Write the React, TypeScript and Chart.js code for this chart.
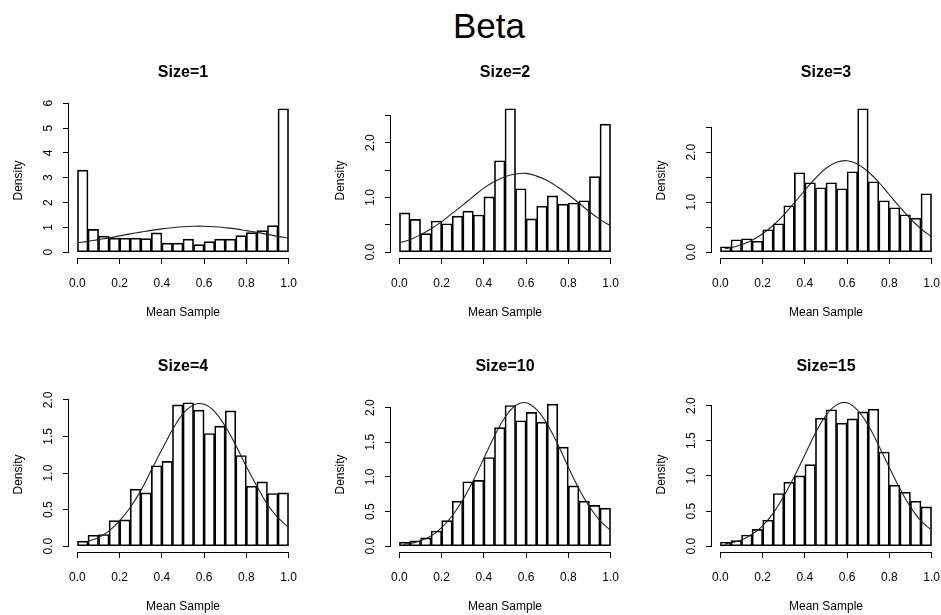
import React, { useEffect, useRef } from "react";
import { Chart, registerables } from "chart.js";

Chart.register(...registerables);

const FONT = "'Liberation Sans', Arial, Helvetica, sans-serif";

// ---------------- data ----------------
const mainTitle = "Beta";
const xAxisTitle = "Mean Sample";
const yAxisTitle = "Density";

const binCenters = [
  0.025, 0.075, 0.125, 0.175, 0.225, 0.275, 0.325, 0.375, 0.425, 0.475,
  0.525, 0.575, 0.625, 0.675, 0.725, 0.775, 0.825, 0.875, 0.925, 0.975,
];
const xTicks = [0, 0.2, 0.4, 0.6, 0.8, 1.0];
const xTickLabels = ["0.0", "0.2", "0.4", "0.6", "0.8", "1.0"];

// Size=1
const size1Bars = [3.31, 0.92, 0.65, 0.57, 0.57, 0.57, 0.55, 0.78, 0.37, 0.37, 0.53, 0.31, 0.43, 0.53, 0.53, 0.67, 0.79, 0.87, 1.07, 5.78];
const size1CurveX = [0, 0.05, 0.1, 0.15, 0.2, 0.25, 0.3, 0.35, 0.4, 0.45, 0.5, 0.55, 0.6, 0.65, 0.7, 0.75, 0.8, 0.85, 0.9, 0.95, 1.0];
const size1CurveY = [0.38, 0.44, 0.51, 0.58, 0.66, 0.74, 0.81, 0.88, 0.94, 0.99, 1.03, 1.05, 1.05, 1.03, 0.99, 0.94, 0.87, 0.8, 0.72, 0.64, 0.57];
const size1YTicks = [0, 1, 2, 3, 4, 5, 6];
const size1YLabels = ["0", "1", "2", "3", "4", "5", "6"];

// Size=2
const size2Bars = [0.72, 0.6, 0.34, 0.57, 0.52, 0.66, 0.75, 0.68, 1.01, 1.67, 2.62, 1.16, 0.61, 0.84, 1.03, 0.88, 0.9, 0.94, 1.38, 2.34];
const size2CurveX = [0, 0.05, 0.1, 0.15, 0.2, 0.25, 0.3, 0.35, 0.4, 0.45, 0.5, 0.55, 0.6, 0.65, 0.7, 0.75, 0.8, 0.85, 0.9, 0.95, 1.0];
const size2CurveY = [0.17, 0.23, 0.32, 0.43, 0.56, 0.71, 0.86, 1.02, 1.17, 1.29, 1.38, 1.43, 1.44, 1.39, 1.31, 1.19, 1.05, 0.9, 0.74, 0.6, 0.48];
const size2YTicks = [0, 0.5, 1, 1.5, 2, 2.5];
const size2YLabels = ["0.0", "", "1.0", "", "2.0", ""];

// Size=3
const size3Bars = [0.11, 0.25, 0.27, 0.22, 0.45, 0.57, 0.93, 1.59, 1.39, 1.29, 1.39, 1.27, 1.61, 2.87, 1.41, 1.03, 0.89, 0.75, 0.68, 1.17];
const size3CurveX = [0.02, 0.05, 0.1, 0.15, 0.2, 0.25, 0.3, 0.35, 0.4, 0.45, 0.5, 0.55, 0.6, 0.65, 0.7, 0.75, 0.8, 0.85, 0.9, 0.95, 1.0];
const size3CurveY = [0.07, 0.09, 0.15, 0.24, 0.37, 0.54, 0.75, 0.99, 1.24, 1.48, 1.68, 1.8, 1.83, 1.76, 1.61, 1.4, 1.15, 0.9, 0.67, 0.47, 0.31];
const size3YTicks = [0, 0.5, 1, 1.5, 2, 2.5];
const size3YLabels = ["0.0", "", "1.0", "", "2.0", ""];

// Size=4
const size4Bars = [0.07, 0.15, 0.16, 0.35, 0.36, 0.78, 0.73, 1.1, 1.16, 1.93, 1.96, 1.86, 1.54, 1.64, 1.85, 1.24, 0.82, 0.88, 0.72, 0.73];
const size4CurveX = [0.05, 0.1, 0.15, 0.2, 0.25, 0.3, 0.35, 0.4, 0.45, 0.5, 0.55, 0.6, 0.65, 0.7, 0.75, 0.8, 0.85, 0.9, 0.95, 1.0];
const size4CurveY = [0.07, 0.12, 0.21, 0.35, 0.53, 0.76, 1.04, 1.32, 1.59, 1.81, 1.93, 1.94, 1.84, 1.64, 1.38, 1.09, 0.82, 0.57, 0.39, 0.26];
const size4YTicks = [0, 0.5, 1, 1.5, 2];
const size4YLabels = ["0.0", "0.5", "1.0", "1.5", "2.0"];

// Size=10
const size10Bars = [0.06, 0.08, 0.12, 0.22, 0.37, 0.65, 0.93, 0.95, 1.28, 1.71, 2.03, 1.81, 1.93, 1.79, 2.05, 1.43, 0.87, 0.65, 0.59, 0.55];
const size10CurveX = [0.02, 0.05, 0.1, 0.15, 0.2, 0.25, 0.3, 0.35, 0.4, 0.45, 0.5, 0.55, 0.6, 0.65, 0.7, 0.75, 0.8, 0.85, 0.9, 0.95, 1.0];
const size10CurveY = [0.03, 0.04, 0.08, 0.15, 0.27, 0.44, 0.67, 0.95, 1.27, 1.59, 1.86, 2.03, 2.07, 1.97, 1.76, 1.47, 1.14, 0.83, 0.57, 0.37, 0.23];
const size10YTicks = [0, 0.5, 1, 1.5, 2];
const size10YLabels = ["0.0", "0.5", "1.0", "1.5", "2.0"];

// Size=15
const size15Bars = [0.06, 0.08, 0.16, 0.24, 0.37, 0.75, 0.91, 1.0, 1.16, 1.82, 1.94, 1.75, 1.81, 1.91, 1.95, 1.34, 0.87, 0.77, 0.64, 0.56];
const size15CurveX = [0.02, 0.05, 0.1, 0.15, 0.2, 0.25, 0.3, 0.35, 0.4, 0.45, 0.5, 0.55, 0.6, 0.65, 0.7, 0.75, 0.8, 0.85, 0.9, 0.95, 1.0];
const size15CurveY = [0.03, 0.05, 0.09, 0.17, 0.29, 0.47, 0.71, 0.99, 1.3, 1.61, 1.86, 2.01, 2.04, 1.93, 1.72, 1.43, 1.12, 0.82, 0.56, 0.36, 0.23];
const size15YTicks = [0, 0.5, 1, 1.5, 2];
const size15YLabels = ["0.0", "0.5", "1.0", "1.5", "2.0"];

// ---------------- layout ----------------
const COL_LEFT = [0, 322, 643];
const ROW_TOP = [40, 334];
const CANVAS_W = 309;
const CANVAS_H = 280;
const Y_AXIS_W = 69;
const X_AXIS_H = 62;
const TICK_LEN = 6;
const Y_LABEL_DIST = 20.5;

type Panel = {
  title: string;
  bars: number[];
  curveX: number[];
  curveY: number[];
  yTicks: number[];
  yLabels: string[];
  col: number;
  row: number;
};

const panels: Panel[] = [
  { title: "Size=1", bars: size1Bars, curveX: size1CurveX, curveY: size1CurveY, yTicks: size1YTicks, yLabels: size1YLabels, col: 0, row: 0 },
  { title: "Size=2", bars: size2Bars, curveX: size2CurveX, curveY: size2CurveY, yTicks: size2YTicks, yLabels: size2YLabels, col: 1, row: 0 },
  { title: "Size=3", bars: size3Bars, curveX: size3CurveX, curveY: size3CurveY, yTicks: size3YTicks, yLabels: size3YLabels, col: 2, row: 0 },
  { title: "Size=4", bars: size4Bars, curveX: size4CurveX, curveY: size4CurveY, yTicks: size4YTicks, yLabels: size4YLabels, col: 0, row: 1 },
  { title: "Size=10", bars: size10Bars, curveX: size10CurveX, curveY: size10CurveY, yTicks: size10YTicks, yLabels: size10YLabels, col: 1, row: 1 },
  { title: "Size=15", bars: size15Bars, curveX: size15CurveX, curveY: size15CurveY, yTicks: size15YTicks, yLabels: size15YLabels, col: 2, row: 1 },
];

function measureText(text: string, font: string): number {
  const c = document.createElement("canvas").getContext("2d");
  if (!c) return text.length * 7;
  c.font = font;
  return c.measureText(text).width;
}

const rAxisPlugin = {
  id: "rAxis",
  afterDraw(chart: any) {
    const { ctx, chartArea, scales } = chart;
    const xs = scales.x;
    const ys = scales.y;
    const xt = xs.ticks;
    const yt = ys.ticks;
    const al = (p: number) => Math.round(p - 0.5) + 0.5;
    ctx.save();
    ctx.strokeStyle = "#000";
    ctx.lineWidth = 1;
    ctx.beginPath();
    const yLine = Math.round(chartArea.bottom) + 0.5;
    ctx.moveTo(al(xs.getPixelForValue(xt[0].value)) - 0.5, yLine);
    ctx.lineTo(al(xs.getPixelForValue(xt[xt.length - 1].value)) + 0.5, yLine);
    const xLine = Math.round(chartArea.left) - 0.5;
    ctx.moveTo(xLine, al(ys.getPixelForValue(yt[0].value)) + 0.5);
    ctx.lineTo(xLine, al(ys.getPixelForValue(yt[yt.length - 1].value)) - 0.5);
    ctx.stroke();
    ctx.restore();
  },
};

function HistPanel({ p }: { p: Panel }) {
  const ref = useRef<HTMLCanvasElement | null>(null);

  useEffect(() => {
    if (!ref.current) return;
    const yMax = Math.max(...p.bars, ...p.curveY);
    const tickFont = { size: 12, family: FONT };
    const widest = Math.max(...p.yLabels.map((l) => measureText(l, `12px ${FONT}`)));
    const yPad = Math.max(0, Y_LABEL_DIST - TICK_LEN - widest / 2);

    const chart = new Chart(ref.current, {
      type: "bar",
      data: {
        datasets: [
          {
            type: "line",
            data: p.curveX.map((x, i) => ({ x, y: p.curveY[i] })),
            borderColor: "#222",
            borderWidth: 1.1,
            pointRadius: 0,
            tension: 0.4,
            fill: false,
            order: 0,
          } as any,
          {
            type: "bar",
            data: binCenters.map((x, i) => ({ x, y: p.bars[i] })),
            backgroundColor: "rgba(255,255,255,0)",
            borderColor: "#000",
            borderWidth: 1,
            borderSkipped: false,
            barPercentage: 1,
            categoryPercentage: 1,
            order: 1,
          } as any,
        ],
      },
      options: {
        animation: false,
        responsive: false,
        devicePixelRatio: 1,
        layout: { padding: { left: 0, right: 12, top: 0, bottom: 0 } },
        plugins: {
          legend: { display: false },
          tooltip: { enabled: false },
          title: {
            display: true,
            text: p.title,
            fullSize: false,
            color: "#000",
            font: { size: 16, weight: "bold", family: FONT },
            padding: { top: 23.3, bottom: 20.5 },
          },
        },
        scales: {
          x: {
            type: "linear",
            min: -0.04,
            max: 1.04,
            offset: false,
            grid: { display: true, drawOnChartArea: false, drawTicks: true, tickLength: TICK_LEN, color: "#000", lineWidth: 1, offset: false },
            border: { display: false },
            ticks: {
              autoSkip: false,
              minRotation: 0,
              maxRotation: 0,
              padding: 12,
              color: "#000",
              font: tickFont,
              callback: (_v: any, i: number) => xTickLabels[i],
            },
            afterBuildTicks: (s: any) => {
              s.ticks = xTicks.map((v) => ({ value: v }));
            },
            afterFit: (s: any) => {
              s.height = X_AXIS_H;
              s.paddingLeft = 0;
              s.paddingRight = 0;
            },
            title: { display: true, text: xAxisTitle, color: "#000", font: { size: 12, family: FONT }, padding: { top: 0, bottom: 0 } },
          },
          y: {
            type: "linear",
            min: -0.04 * yMax,
            max: 1.04 * yMax,
            grid: { display: true, drawOnChartArea: false, drawTicks: true, tickLength: TICK_LEN, color: "#000", lineWidth: 1 },
            border: { display: false },
            ticks: {
              autoSkip: false,
              minRotation: 90,
              maxRotation: 90,
              crossAlign: "center",
              padding: yPad,
              color: "#000",
              font: tickFont,
              callback: (_v: any, i: number) => p.yLabels[i],
            },
            afterBuildTicks: (s: any) => {
              s.ticks = p.yTicks.map((v) => ({ value: v }));
            },
            afterFit: (s: any) => {
              s.width = Y_AXIS_W;
              s.paddingTop = 0;
              s.paddingBottom = 0;
            },
            title: { display: true, text: yAxisTitle, color: "#000", font: { size: 12, family: FONT }, padding: { top: 11, bottom: 0 } },
          },
        },
      } as any,
      plugins: [rAxisPlugin],
    });
    return () => chart.destroy();
  }, [p]);

  return (
    <canvas
      ref={ref}
      width={CANVAS_W}
      height={CANVAS_H}
      style={{ position: "absolute", left: COL_LEFT[p.col], top: ROW_TOP[p.row], width: CANVAS_W, height: CANVAS_H }}
    />
  );
}

export default function App() {
  return (
    <div
      style={{
        position: "fixed",
        left: 0,
        top: 0,
        width: 941,
        height: 615,
        overflow: "hidden",
        background: "#fff",
        fontFamily: FONT,
      }}
    >
      <div
        style={{
          position: "absolute",
          left: 0,
          top: 8,
          width: 978,
          textAlign: "center",
          fontSize: 35,
          lineHeight: "35px",
          color: "#000",
          fontFamily: FONT,
        }}
      >
        {mainTitle}
      </div>
      {panels.map((p) => (
        <HistPanel key={p.title} p={p} />
      ))}
    </div>
  );
}
